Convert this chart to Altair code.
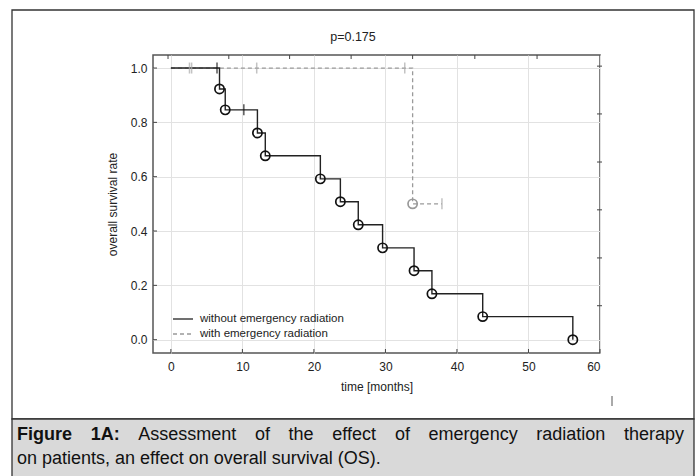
import altair as alt
import pandas as pd

# ---- data ----
time_without = [0, 6.8, 7.6, 12.1, 13.2, 20.9, 23.7, 26.2, 29.6, 34.0, 36.5, 43.6, 56.2]
surv_without = [1.0, 0.923, 0.846, 0.761, 0.677, 0.592, 0.508, 0.423, 0.338, 0.254, 0.169, 0.085, 0.0]
cens_without_t = [6.45, 10.2]
cens_without_s = [1.0, 0.846]

time_with = [0, 33.8, 37.9]
surv_with = [1.0, 0.5, 0.5]
event_with_t = [33.8]
event_with_s = [0.5]
cens_with_t = [2.6, 2.9, 12.0, 32.7, 37.9]
cens_with_s = [1.0, 1.0, 1.0, 1.0, 0.5]

x_ticks = [0, 10, 20, 30, 40, 50, 60]
y_ticks = [0.0, 0.2, 0.4, 0.6, 0.8, 1.0]
top_ticks = [-0.4, 8.1, 16.6, 25.2, 33.8, 42.5, 51.2]
right_ticks = [1.007, 0.831, 0.654, 0.478, 0.301, 0.125]

legend_labels = ["without emergency radiation", "with emergency radiation"]
p_label = "p=0.175"
caption_line1_words = ["Figure", "1A:", "Assessment", "of", "the", "effect", "of",
                       "emergency", "radiation", "therapy"]
caption_bold_words = 2
caption_line2 = "on patients, an effect on overall survival (OS)."

W, H = 447, 298
FONT = "Liberation Sans"
CAP_FONT = "Liberation Sans"
CAP_SIZE = 18

# Arial / Liberation Sans advance widths (per 1000 em) used to justify caption line 1
REG = dict(zip("abcdefghijklmnopqrstuvwxyz", [556, 556, 500, 556, 556, 278, 556, 556, 222, 222, 500, 222, 833,
                                              556, 556, 556, 556, 333, 500, 278, 556, 500, 722, 500, 500, 500]))
REG.update({"A": 667, ":": 278, "1": 556})
BOLD = {"F": 611, "i": 278, "g": 611, "u": 611, "r": 389, "e": 556, "1": 556, "A": 722, ":": 333}


def word_width(w, bold):
    table = BOLD if bold else REG
    return sum(table.get(c, 556) for c in w) * CAP_SIZE / 1000.0


xscale = alt.Scale(domain=[-2.5, 60], nice=False, zero=False)
yscale = alt.Scale(domain=[-0.049, 1.048], nice=False, zero=False)

x_axis = alt.Axis(values=x_ticks, grid=True, gridColor="#e2e2e2", ticks=False, domain=False,
                  labelPadding=8, titlePadding=9, labelFontSize=12, titleFontSize=12,
                  labelFont=FONT, titleFont=FONT, labelColor="#222", titleColor="#222",
                  titleFontWeight="normal")
y_axis = alt.Axis(values=y_ticks, format=".1f", grid=True, gridColor="#e2e2e2", ticks=False,
                  domain=False, labelPadding=6, titlePadding=11, labelFontSize=12, titleFontSize=12,
                  labelFont=FONT, titleFont=FONT, labelColor="#222", titleColor="#222",
                  titleFontWeight="normal")


def X():
    return alt.X("t:Q", scale=xscale, axis=x_axis, title="time [months]")


def Y():
    return alt.Y("s:Q", scale=yscale, axis=y_axis, title="overall survival rate")


df_wo = pd.DataFrame({"t": time_without, "s": surv_without})
df_wo_ev = pd.DataFrame({"t": time_without[1:], "s": surv_without[1:]})
df_wo_c = pd.DataFrame({"t": cens_without_t, "s": cens_without_s})
df_w = pd.DataFrame({"t": time_with, "s": surv_with})
df_w_ev = pd.DataFrame({"t": event_with_t, "s": event_with_s})
df_w_c = pd.DataFrame({"t": cens_with_t, "s": cens_with_s})

one = pd.DataFrame({"k": [0]})

# decorations: outer frame & caption band
outer = alt.Chart(one).mark_rect(fill="white", fillOpacity=0, stroke="#333", strokeWidth=1.3).encode(
    x=alt.value(-141), x2=alt.value(541), y=alt.value(-45), y2=alt.value(364))
band = alt.Chart(one).mark_rect(fill="#d9d9d9", stroke="#333", strokeWidth=1.3).encode(
    x=alt.value(-141), x2=alt.value(541), y=alt.value(364), y2=alt.value(430))

# inward tick marks
bt = alt.Chart(pd.DataFrame({"t": x_ticks})).mark_rule(color="#444", strokeWidth=1).encode(
    x=X(), y=alt.value(H), y2=alt.value(H - 4))
lt = alt.Chart(pd.DataFrame({"s": y_ticks})).mark_rule(color="#444", strokeWidth=1).encode(
    y=Y(), x=alt.value(0), x2=alt.value(4))
tt = alt.Chart(pd.DataFrame({"t": top_ticks})).mark_rule(color="#444", strokeWidth=1).encode(
    x=X(), y=alt.value(0), y2=alt.value(4))
rt = alt.Chart(pd.DataFrame({"s": right_ticks})).mark_rule(color="#444", strokeWidth=1).encode(
    y=Y(), x=alt.value(W - 3), x2=alt.value(W + 2))

line_w = alt.Chart(df_w).mark_line(interpolate="step-after", color="#9a9a9a", strokeWidth=1.3,
                                   strokeDash=[4, 3]).encode(x=X(), y=Y())
line_wo = alt.Chart(df_wo).mark_line(interpolate="step-after", color="#222", strokeWidth=1.4).encode(
    x=X(), y=Y())
ev_wo = alt.Chart(df_wo_ev).mark_point(shape="circle", filled=False, color="#111", size=85,
                                        strokeWidth=1.7, opacity=1).encode(x=X(), y=Y())
ev_w = alt.Chart(df_w_ev).mark_point(shape="circle", filled=False, color="#999", size=85,
                                      strokeWidth=1.7, opacity=1).encode(x=X(), y=Y())
c_wo = alt.Chart(df_wo_c).mark_tick(orient="vertical", color="#111", size=11, thickness=1.5).encode(
    x=X(), y=Y())
c_w = alt.Chart(df_w_c).mark_tick(orient="vertical", color="#aaa", size=11, thickness=1.5).encode(
    x=X(), y=Y())

# legend
leg1_line = alt.Chart(one).mark_rule(color="#222", strokeWidth=1.3).encode(
    x=alt.value(20), x2=alt.value(40), y=alt.value(264))
leg2_line = alt.Chart(one).mark_rule(color="#999", strokeWidth=1.3, strokeDash=[4, 3]).encode(
    x=alt.value(20), x2=alt.value(40), y=alt.value(279))
leg1_text = alt.Chart(pd.DataFrame({"label": [legend_labels[0]]})).mark_text(
    align="left", baseline="middle", font=FONT, fontSize=11.5, color="#222").encode(
    text="label:N", x=alt.value(47), y=alt.value(264))
leg2_text = alt.Chart(pd.DataFrame({"label": [legend_labels[1]]})).mark_text(
    align="left", baseline="middle", font=FONT, fontSize=11.5, color="#222").encode(
    text="label:N", x=alt.value(47), y=alt.value(279))

ptxt = alt.Chart(pd.DataFrame({"label": [p_label]})).mark_text(
    align="center", baseline="middle", font=FONT, fontSize=12.5, color="#222").encode(
    text="label:N", x=alt.value(200), y=alt.value(-18))

stray = alt.Chart(one).mark_rule(color="#555", strokeWidth=1).encode(
    x=alt.value(459), y=alt.value(341), y2=alt.value(351))

# caption line 1, justified between left and right text edges
cap_left, cap_right = -136, 531
widths = [word_width(w, i < caption_bold_words) for i, w in enumerate(caption_line1_words)]
gap = (cap_right - cap_left - sum(widths)) / (len(caption_line1_words) - 1)
cap_layers = []
xpos = cap_left
for i, w in enumerate(caption_line1_words):
    cap_layers.append(
        alt.Chart(pd.DataFrame({"label": [w]})).mark_text(
            align="left", baseline="middle", font=CAP_FONT, fontSize=CAP_SIZE,
            fontWeight="bold" if i < caption_bold_words else "normal", color="#111").encode(
            text="label:N", x=alt.value(round(xpos, 1)), y=alt.value(380)))
    xpos += widths[i] + gap

cap_2 = alt.Chart(pd.DataFrame({"label": [caption_line2]})).mark_text(
    align="left", baseline="middle", font=CAP_FONT, fontSize=CAP_SIZE, color="#111").encode(
    text="label:N", x=alt.value(cap_left), y=alt.value(404))

chart = alt.layer(
    outer, band, bt, lt, tt, rt, line_w, line_wo, ev_wo, ev_w, c_wo, c_w,
    leg1_line, leg2_line, leg1_text, leg2_text, ptxt, stray, *cap_layers, cap_2
).properties(
    width=W, height=H,
    padding={"left": 153, "top": 55, "right": 95, "bottom": 123},
    autosize=alt.AutoSizeParams(type="none"),
    background="white",
).configure_view(stroke="#555", strokeWidth=1.5)

chart.save("out.html", embed_options={"renderer": "svg", "actions": False})
